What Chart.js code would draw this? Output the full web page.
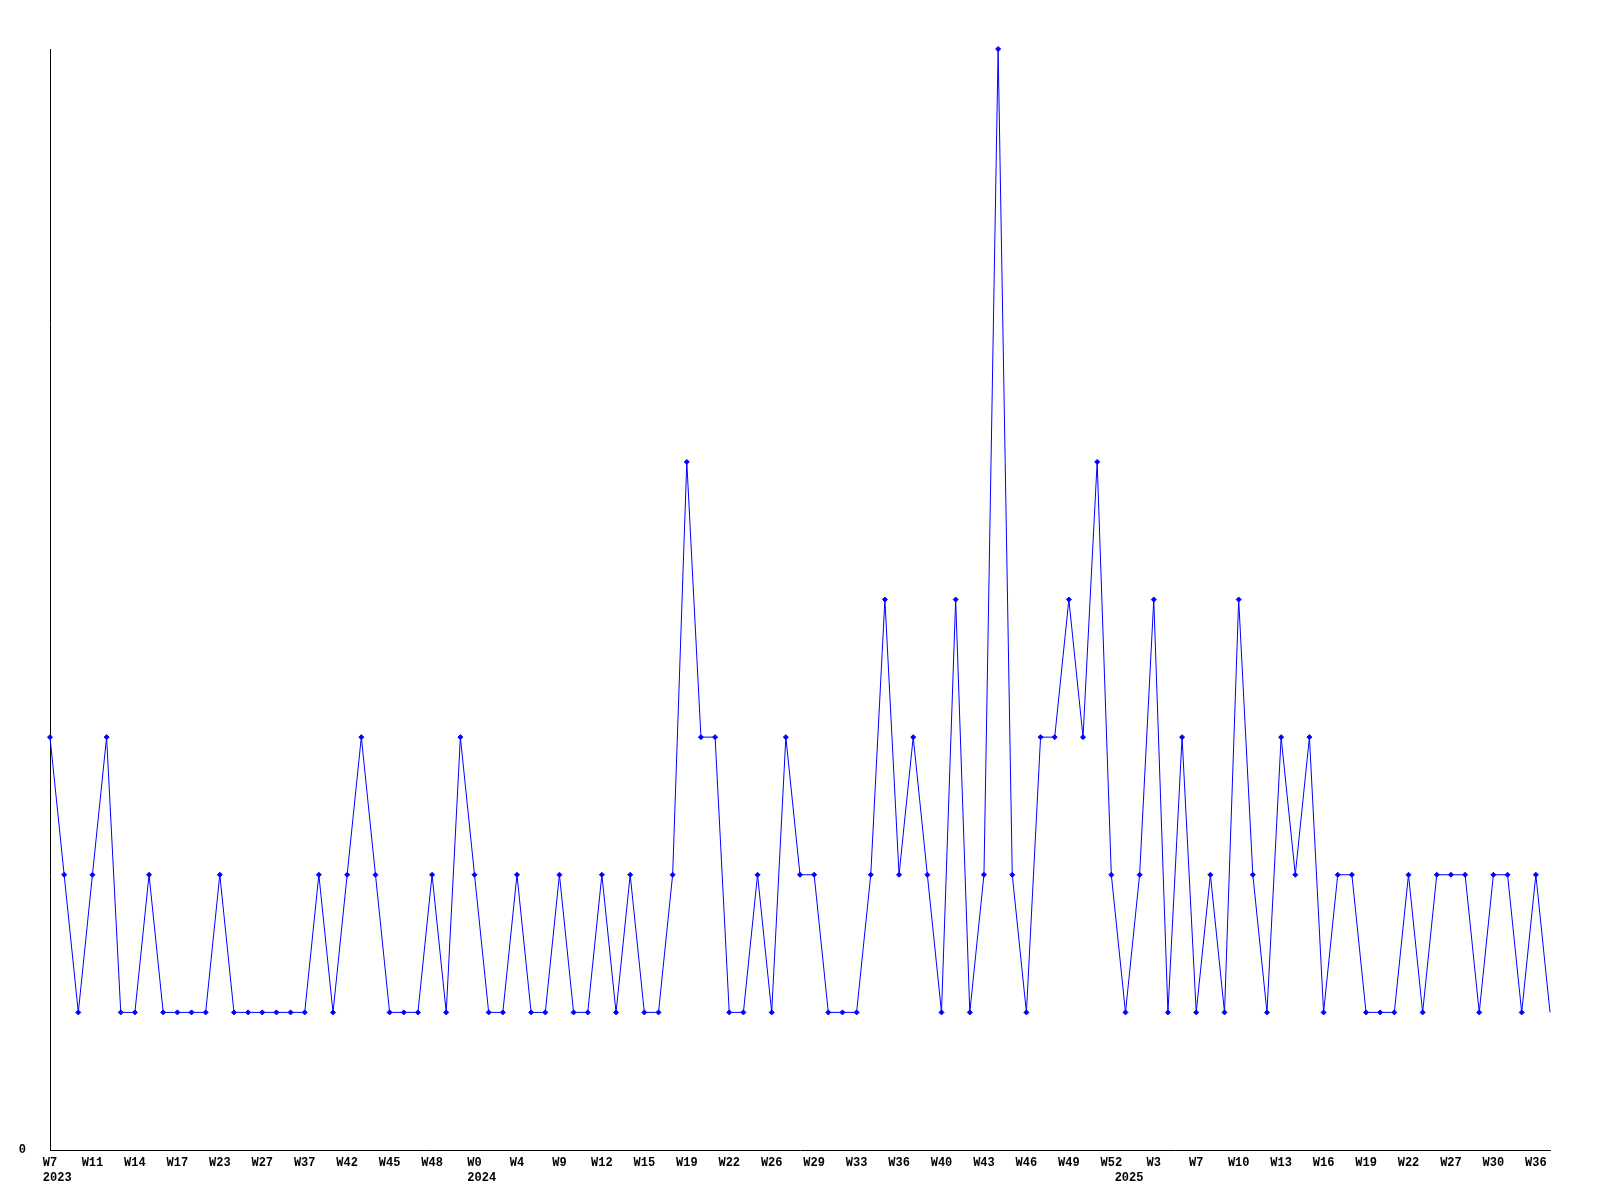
<!DOCTYPE html>
<html>
<head>
<meta charset="utf-8">
<script src="https://cdn.jsdelivr.net/npm/chart.js@4/dist/chart.umd.min.js"></script>
<style>
  html, body { margin: 0; padding: 0; background: #ffffff; }
  #wrap { width: 1600px; height: 1200px; }
</style>
</head>
<body>
<div id="wrap"><canvas id="c" width="1600" height="1200"></canvas></div>
<script>
// Week numbers per year (categories), in order
const weeks2023 = [7,9,10,11,12,13,14,15,16,17,19,21,23,24,26,27,30,34,37,39,41,42,43,44,45,46,47,48,49,51];
const weeks2024 = [0,1,2,4,5,7,9,10,11,12,13,14,15,17,18,19,20,21,22,23,25,26,27,28,29,31,32,33,34,35,36,37,38,40,41,42,43,44,45,46,47,48,49,50,51,52];
const weeks2025 = [0,2,3,5,6,7,8,9,10,11,12,13,14,15,16,17,18,19,20,21,22,24,25,27,28,29,30,32,34,36,37];

// Series values (one per week)
const counts = [
  3,2,1,2,3,1,1,2,1,1,
  1,1,2,1,1,1,1,1,1,2,
  1,2,3,2,1,1,1,2,1,3,
  2,1,1,2,1,1,2,1,1,2,
  1,2,1,1,2,5,3,3,1,1,
  2,1,3,2,2,1,1,1,2,4,
  2,3,2,1,4,1,2,8,2,1,
  3,3,4,3,5,2,1,2,4,1,
  3,1,2,1,4,2,1,3,2,3,
  1,2,2,1,1,1,2,1,2,2,
  2,1,2,2,1,2,1
];

const yTickLabels = ['0'];

// Build categories
const categories = [];
const catYears = [];
const catWeeks = [];
[[2023, weeks2023], [2024, weeks2024], [2025, weeks2025]].forEach(([y, ws]) => {
  ws.forEach(w => { categories.push(y + '-W' + w); catYears.push(String(y)); catWeeks.push('W' + w); });
});

const tickFont = { family: '"Liberation Mono", "DejaVu Sans Mono", monospace', size: 12, weight: 'bold', lineHeight: 1.3 };
const lastIdx = counts.length - 1;

new Chart(document.getElementById('c'), {
  type: 'line',
  data: {
    labels: categories,
    datasets: [{
      data: counts,
      clip: false,
      borderColor: '#0000ff',
      backgroundColor: '#0000ff',
      borderWidth: 1,
      tension: 0,
      fill: false,
      pointStyle: 'rectRot',
      pointRadius: ctx => ctx.dataIndex === lastIdx ? 0 : 2.5,
      pointBorderWidth: 1,
      pointBorderColor: '#0000ff',
      pointBackgroundColor: '#0000ff'
    }]
  },
  options: {
    responsive: false,
    animation: false,
    events: [],
    layout: { padding: { left: 0, right: 50, top: 49, bottom: 0 } },
    plugins: { legend: { display: false }, tooltip: { enabled: false }, title: { display: false } },
    scales: {
      x: {
        type: 'category',
        offset: false,
        grid: { display: false, drawTicks: false },
        border: { display: true, color: '#000000', width: 1 },
        afterFit: s => { s.height = 50; },
        ticks: {
          autoSkip: false,
          maxRotation: 0,
          minRotation: 0,
          padding: 5,
          color: '#000000',
          font: tickFont,
          callback: function(v, i) {
            const showWeek = i % 3 === 0;
            const newYear = i === 0 || catYears[i] !== catYears[i - 1];
            const w = showWeek ? catWeeks[i] : '';
            if (newYear) {
              // left-align the year with the week label above it
              const pad = w ? Math.max(0, 4 - w.length) : 1;
              return [w, ' '.repeat(pad) + catYears[i]];
            }
            return w;
          }
        }
      },
      y: {
        min: 0,
        max: 8,
        grid: { display: false, drawTicks: false },
        border: { display: true, color: '#000000', width: 1 },
        afterFit: s => { s.width = 50; },
        afterBuildTicks: s => { s.ticks = yTickLabels.map(t => ({ value: Number(t) })); },
        ticks: {
          padding: 24,
          color: '#000000',
          font: tickFont,
          callback: v => String(v)
        }
      }
    }
  }
});
</script>
</body>
</html>
